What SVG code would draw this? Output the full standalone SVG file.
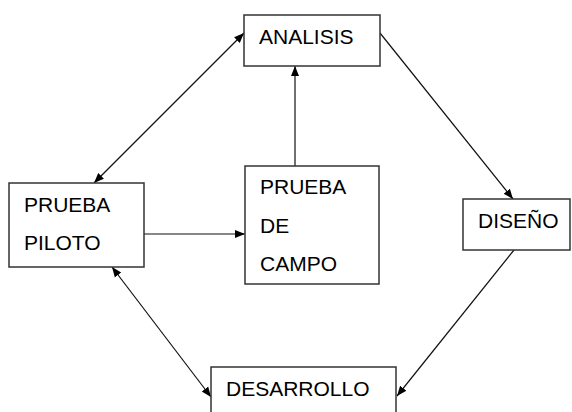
<svg xmlns="http://www.w3.org/2000/svg" width="572" height="412" viewBox="0 0 572 412">
<style>
.box{fill:#fff;stroke:#333;stroke-width:1.5}
.t{font-family:"Liberation Sans",Arial,sans-serif;font-size:21px;fill:#000}
.c{stroke:#111;stroke-width:1.2;fill:none}
</style>
<defs>
<marker id="ah" viewBox="0 0 10 10" refX="10" refY="5" markerWidth="10" markerHeight="10" markerUnits="userSpaceOnUse" orient="auto-start-reverse">
<path d="M0,1 L10,5 L0,9 z" fill="#000"/>
</marker>
</defs>
<rect width="572" height="412" fill="#fff"/>
<g id="connectors">
<line class="c" x1="244" y1="33" x2="94" y2="183" marker-start="url(#ah)" marker-end="url(#ah)"/>
<line class="c" x1="295" y1="166" x2="295" y2="66" marker-end="url(#ah)"/>
<line class="c" x1="380" y1="33" x2="513" y2="199" marker-end="url(#ah)"/>
<line class="c" x1="144" y1="234" x2="245" y2="234" marker-end="url(#ah)"/>
<line class="c" x1="514" y1="250" x2="397" y2="396" marker-end="url(#ah)"/>
<line class="c" x1="112" y1="267" x2="211" y2="397" marker-start="url(#ah)" marker-end="url(#ah)"/>
</g>
<g id="analisis">
<rect class="box" x="244" y="15" width="136" height="51"/>
<text class="t" x="259" y="44">ANALISIS</text>
</g>
<g id="prueba-piloto">
<rect class="box" x="9" y="183" width="135" height="84"/>
<text class="t" x="24" y="212">PRUEBA</text>
<text class="t" x="24" y="250">PILOTO</text>
</g>
<g id="prueba-de-campo">
<rect class="box" x="245" y="166" width="134" height="118"/>
<text class="t" x="260" y="194">PRUEBA</text>
<text class="t" x="260" y="233">DE</text>
<text class="t" x="260" y="271">CAMPO</text>
</g>
<g id="diseno">
<rect class="box" x="463" y="199" width="107" height="51"/>
<text class="t" x="478" y="228">DISEÑO</text>
</g>
<g id="desarrollo">
<rect class="box" x="211" y="367" width="185" height="60"/>
<text class="t" x="226" y="396">DESARROLLO</text>
</g>
</svg>
